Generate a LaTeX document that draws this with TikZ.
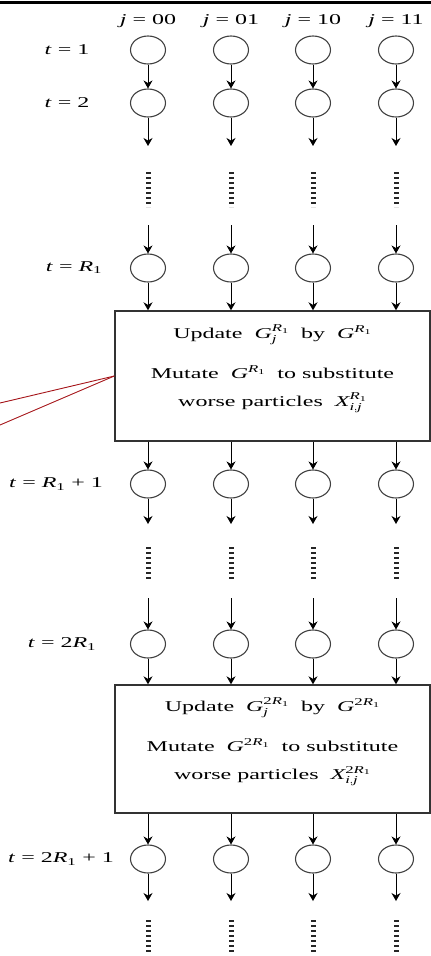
\documentclass[tikz,border=0pt]{standalone}
\usepackage{amsmath}
\usepackage{fontspec}
\setmainfont{Liberation Serif}[FakeStretch=1.6]
\usepackage{xcolor}
\usepackage{tikz}
\usetikzlibrary{arrows.meta,positioning,calc,shapes.geometric}

\definecolor{callout}{RGB}{165,20,25}
\newcommand{\vi}[1]{\text{\itshape #1}}

\begin{document}
\begin{tikzpicture}[
  x=1pt, y=-1pt,
  font=\fontsize{15}{18}\selectfont,
  cell/.style={draw=black!75, line width=1.1pt, ellipse, minimum width=35pt, minimum height=28pt, inner sep=0pt},
  panel/.style={draw=black!80, line width=1.4pt, minimum width=315pt, inner sep=0pt},
  arr/.style={-{Stealth[length=8pt,width=9pt]}, line width=0.9pt},
  vdots/.style={line width=5pt, dash pattern=on 2.2pt off 2.8pt, black!85},
  link/.style={draw=callout, line width=0.9pt}
]
  \useasboundingbox (0,0) rectangle (431,956);
  \draw[line width=3pt] (0,2.5) -- (431,2.5);

  % update boxes
  \node[panel, minimum height=130pt] (box1) at (272.5,376) {};
  \node[panel, minimum height=128pt] (box2) at (272.5,749) {};
  \node[align=center] (txt1) at (272.5,369) {%
    Update~~$\vi{G}^{\vi{R}_{\text{1}}}_{\vi{j}}$~~by~~$\vi{G}^{\vi{R}_{\text{1}}}$\\[20pt]
    Mutate~~$\vi{G}^{\vi{R}_{\text{1}}}$~~to substitute\\[10pt]
    worse particles~~$\vi{X}^{\vi{R}_{\text{1}}}_{\vi{i},\vi{j}}$};
  \node[align=center] (txt2) at (272.5,742) {%
    Update~~$\vi{G}^{\text{2}\vi{R}_{\text{1}}}_{\vi{j}}$~~by~~$\vi{G}^{\text{2}\vi{R}_{\text{1}}}$\\[20pt]
    Mutate~~$\vi{G}^{\text{2}\vi{R}_{\text{1}}}$~~to substitute\\[10pt]
    worse particles~~$\vi{X}^{\text{2}\vi{R}_{\text{1}}}_{\vi{i},\vi{j}}$};

  % row labels
  \node (lab1) at (67,50) {\textit{t} = 1};
  \node (lab2) at (67,103) {\textit{t} = 2};
  \node (lab3) at (74,268) {\textit{t} = \textit{R}$_{\text{1}}$};
  \node (lab4) at (56,484) {\textit{t} = \textit{R}$_{\text{1}}$ + 1};
  \node (lab5) at (62,644) {\textit{t} = 2\textit{R}$_{\text{1}}$};
  \node (lab6) at (61,859) {\textit{t} = 2\textit{R}$_{\text{1}}$ + 1};

  % particle columns
  \foreach \c/\x/\j in {1/148/00, 2/231/01, 3/313/10, 4/396/11} {
    \node (h\c) at (\x,21) {\textit{j} = \j};
    \foreach \r/\y in {1/50, 2/103, 3/268, 4/484, 5/644, 6/859}
      \node[cell] (p\r-\c) at (\x,\y) {};

    \coordinate (e1-\c) at (\x,146);
    \coordinate (s1-\c) at (\x,225);
    \coordinate (e2-\c) at (\x,524);
    \coordinate (s2-\c) at (\x,598);
    \coordinate (e3-\c) at (\x,901);

    \draw[arr] (p1-\c) -- (p2-\c);
    \draw[arr] (p2-\c) -- (e1-\c);
    \draw[vdots] (\x,172) -- (\x,207);
    \draw[arr] (s1-\c) -- (p3-\c);
    \draw[arr] (p3-\c) -- (p3-\c |- box1.north);
    \draw[arr] (p4-\c |- box1.south) -- (p4-\c);
    \draw[arr] (p4-\c) -- (e2-\c);
    \draw[vdots] (\x,547) -- (\x,580);
    \draw[arr] (s2-\c) -- (p5-\c);
    \draw[arr] (p5-\c) -- (p5-\c |- box2.north);
    \draw[arr] (p6-\c |- box2.south) -- (p6-\c);
    \draw[arr] (p6-\c) -- (e3-\c);
    \draw[vdots] (\x,920) -- (\x,953);
  }

  % callout lines
  \coordinate (cl1) at (0,403);
  \coordinate (cl2) at (0,425);
  \draw[link] (box1.west) -- (cl1);
  \draw[link] (box1.west) -- (cl2);
\end{tikzpicture}
\end{document}
